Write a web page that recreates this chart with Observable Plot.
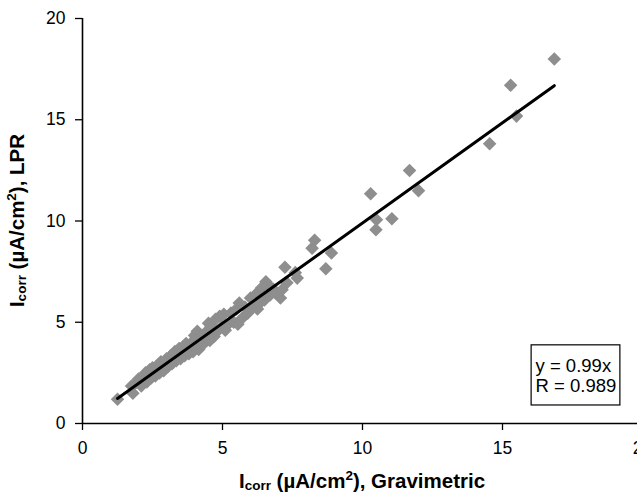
<!DOCTYPE html>
<html>
<head>
<meta charset="utf-8">
<script src="https://cdn.jsdelivr.net/npm/d3@7"></script>
<script src="https://cdn.jsdelivr.net/npm/@observablehq/plot@0.6"></script>
<style>
  html, body { margin: 0; padding: 0; background: #fff; }
  #chart { width: 637px; height: 493px; overflow: hidden; }
</style>
</head>
<body>
<div id="chart"></div>
<script>
// Gravimetric Icorr (x) vs LPR Icorr (y), µA/cm²
const gravimetric = [
  1.25, 1.75, 1.8, 1.9, 2.0, 2.1, 2.2, 2.25, 2.3, 2.4, 2.45, 2.5, 2.6, 2.7, 2.75, 2.8, 2.9, 3.0, 3.05, 3.15,
  3.2, 3.3, 3.35, 3.45, 3.5, 3.6, 3.65, 3.7, 3.8, 3.9, 3.95, 4.0, 4.05, 4.1, 4.15, 4.25, 4.3, 4.4, 4.5, 4.55,
  4.6, 4.7, 4.75, 4.85, 4.9, 5.0, 5.05, 5.1, 5.2, 5.3, 5.4, 5.5, 5.55, 5.6, 5.7, 5.8, 5.9, 6.0, 6.1, 6.2,
  6.25, 6.3, 6.4, 6.5, 6.55, 6.6, 6.7, 6.8, 6.9, 7.07, 7.13, 7.23, 7.3, 7.6, 7.67, 8.2, 8.29, 8.69, 8.89,
  10.29, 10.48, 10.5, 11.05, 11.68, 12.0, 14.54, 15.29, 15.5, 16.85
];
const lpr = [
  1.2, 1.85, 1.5, 2.0, 2.2, 1.85, 2.35, 2.5, 2.05, 2.65, 2.25, 2.75, 2.35, 2.9, 2.5, 3.05, 2.6, 3.2, 2.8, 3.35,
  2.95, 3.55, 3.1, 3.7, 3.2, 3.8, 3.35, 3.95, 3.45, 4.0, 3.55, 4.35, 3.85, 4.55, 3.65, 4.3, 3.9, 4.5, 4.95, 4.1,
  4.8, 4.3, 5.15, 4.6, 5.3, 4.8, 5.4, 4.6, 4.9, 5.45, 5.0, 5.65, 4.9, 5.95, 5.2, 5.75, 5.45, 6.2, 5.75, 6.4,
  5.65, 5.9, 6.7, 6.1, 7.0, 6.85, 6.35, 6.65, 6.45, 6.2, 6.6, 7.72, 6.95, 7.45, 7.18, 8.66, 9.05, 7.64, 8.42,
  11.35, 9.57, 10.06, 10.11, 12.49, 11.5, 13.81, 16.70, 15.18, 18.0
];
const ticks = [0, 5, 10, 15, 20];
const slope = 0.99;
const fitLabels = ["y = 0.99x", "R = 0.989"];

const points = gravimetric.map((g, i) => ({x: g, y: lpr[i]}));
const xExt = d3.extent(gravimetric);
const fitLine = xExt.map(x => ({x, y: slope * x}));

const font = "'Liberation Sans', Arial, Helvetica, sans-serif";

const plot = Plot.plot({
  width: 637,
  height: 493,
  marginLeft: 82,
  marginRight: -5,
  marginTop: 18,
  marginBottom: 70,
  style: {fontFamily: font, background: "#fff", overflow: "visible"},
  x: {domain: [0, 20], range: [82, 642]},
  y: {domain: [0, 20], range: [423, 18]},
  marks: [
    Plot.axisX(ticks, {tickSize: 7, tickPadding: 11, fontSize: 17.5, stroke: "#000", strokeWidth: 1.3, label: null, fill: "#000"}),
    Plot.axisY(ticks, {tickSize: 7, tickPadding: 10, fontSize: 17.5, stroke: "#000", strokeWidth: 1.3, label: null, fill: "#000"}),
    Plot.dot(points, {x: "x", y: "y", symbol: "diamond2", r: 6.1, fill: "#8e8e8e", stroke: "none"}),
    Plot.line(fitLine, {x: "x", y: "y", stroke: "#000", strokeWidth: 3}),
    Plot.ruleX([0], {y1: 0, y2: 20, stroke: "#000", strokeWidth: 1.6}),
    Plot.ruleY([0], {x1: 0, x2: 20, stroke: "#000", strokeWidth: 1.6}),
    Plot.rect([fitLabels], {x1: 16.04, x2: 19.21, y1: 0.89, y2: 3.86, fill: "#fff", stroke: "#000", strokeWidth: 1.2}),
    Plot.text([fitLabels.join("\n")], {x: 16.18, y: 2.37, text: d => d, textAnchor: "start", lineAnchor: "middle", lineHeight: 1.1, fontSize: 18.5, fill: "#000"})
  ]
});

document.getElementById("chart").appendChild(plot);

// Axis titles with subscript / superscript
const svg = d3.select(plot);
const sx = plot.scale("x"), sy = plot.scale("y");
function addTitle(g, rest) {
  const t = g.append("text")
    .attr("font-family", font)
    .attr("font-weight", "bold")
    .attr("font-size", 20.5)
    .attr("fill", "#000")
    .attr("text-anchor", "middle");
  t.append("tspan").text("I");
  t.append("tspan").attr("font-size", 13.5).attr("dy", 2).text("corr");
  t.append("tspan").attr("dy", -2).text(" (\u00b5A/cm");
  t.append("tspan").attr("font-size", 13.5).attr("dy", -8.5).text("2");
  t.append("tspan").attr("dy", 8.5).text("), " + rest);
  return t;
}
const gx = svg.append("g").attr("transform", `translate(${sx.apply(10)},488)`);
addTitle(gx, "Gravimetric");
const gy = svg.append("g").attr("transform", `translate(24,${sy.apply(10)}) rotate(-90)`);
addTitle(gy, "LPR");
</script>
</body>
</html>
